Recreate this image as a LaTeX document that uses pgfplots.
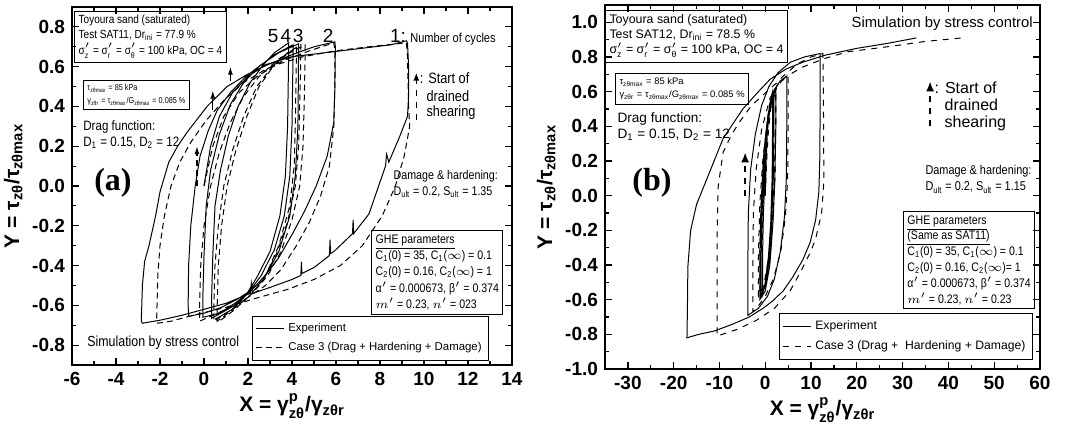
\documentclass[border=0pt]{standalone}
\usepackage{fontspec}
\usepackage{amsmath}
\setmainfont{Liberation Sans}
\newfontfamily\narrow[FakeStretch=0.85]{Liberation Sans}
\newfontfamily\serifb{Liberation Serif}
\usepackage{pgfplots}
\pgfplotsset{compat=1.18}
\usetikzlibrary{arrows.meta}
\newcommand{\s}[1]{$_{\text{#1}}$}
\pgfplotsset{
 myax/.style={scale only axis,
  axis line style={line width=0.8pt},
  every tick/.style={line width=0.6pt, black},
  major tick length=3.5pt, minor tick length=2pt,
  /pgf/number format/assume math mode=true,
  ticklabel style={font=\bfseries\fontsize{9.5}{10}\selectfont},
  label style={font=\bfseries\fontsize{10.5}{12}\selectfont},
  legend cell align=left,
  legend style={draw=black, line width=0.5pt, font=\fontsize{5.7}{6.8}\selectfont, inner sep=1.5pt},
  legend image code/.code={\draw[#1] (0pt,0pt) -- (14pt,0pt);},
  clip=false,
 },
 exp/.style={black, line width=0.5pt},
 sim/.style={black, line width=0.5pt, densely dashed},
}
\begin{document}
\begin{tikzpicture}[x=1pt,y=1pt]
\useasboundingbox (0,0) rectangle (533,215.5);
% ---------------- (a)
\begin{axis}[myax, at={(36pt,33pt)}, anchor=south west, width=220pt, height=179pt,
 xmin=-6, xmax=14, ymin=-0.9, ymax=0.9,
 xtick={-6,-4,...,14}, minor x tick num=1,
 ytick={-0.8,-0.6,-0.4,-0.2,0,0.2,0.4,0.6,0.8}, minor y tick num=1,
 yticklabel style={/pgf/number format/.cd, fixed, fixed zerofill, precision=1},
 xlabel={X = γ$^{\text{p}}_{\text{zθ}}$/γ$_{\text{zθr}}$},
 ylabel={Y = τ$_{\text{zθ}}$/τ$_{\text{zθmax}}$},
 xlabel style={yshift=3pt}, ylabel style={yshift=-2pt},
 legend style={at={(0.948,0.011)}, anchor=south east},
]
\addplot[exp] coordinates {
(0,0)(0.3,0.2)(0.7,0.35)(1.3,0.47)(2.0,0.55)(2.8,0.61)(4.0,0.65)(5.5,0.67)(7,0.69)(8.5,0.71)(9.2,0.73)
(9.25,0.72)(9.3,0.6)(9.3,0.45)(9.25,0.35)
(8.9,0.25)(8.4,0.12)(8.3,0.16)(8.25,0.1)(8.0,0.02)(7.5,-0.14)(6.8,-0.24)(6.78,-0.17)(6.75,-0.24)(5.9,-0.33)(5.75,-0.34)(5.73,-0.27)(5.7,-0.35)(5.0,-0.41)(4.45,-0.44)(4.43,-0.38)(4.4,-0.45)(4.0,-0.47)(3.0,-0.51)(2.2,-0.54)(2.15,-0.49)(2.1,-0.54)(1.0,-0.59)(0,-0.62)(-1.0,-0.65)(-2.0,-0.675)(-2.8,-0.69)
(-2.85,-0.68)(-2.8,-0.5)(-2.7,-0.38)(-2.5,-0.3)(-2.2,-0.15)(-2.0,-0.03)(-1.6,0.12)(-1.2,0.2)(-0.77,0.27)(0.14,0.4)(1.05,0.5)(1.95,0.56)(2.9,0.61)(4.0,0.66)(5.0,0.70)(5.95,0.725)
(5.97,0.7)(5.95,0.5)(5.9,0.32)
(5.6,0.15)(5.1,0)(4.6,-0.12)(4.05,-0.235)(3.4,-0.36)(2.86,-0.44)(2.2,-0.52)(1.5,-0.57)(0.8,-0.61)(0,-0.64)(-0.7,-0.655)
(-0.72,-0.6)(-0.7,-0.4)(-0.6,-0.2)(-0.4,0)(-0.18,0.15)(0.2,0.28)(0.6,0.38)(1.2,0.47)(1.9,0.55)(2.6,0.61)(3.4,0.67)(4.3,0.715)
(4.3,0.68)(4.27,0.3)(4.15,0.05)(3.9,-0.15)(3.4,-0.33)(2.8,-0.45)(2.0,-0.54)(1.4,-0.59)(0.7,-0.64)(-0.05,-0.66)
(-0.05,-0.55)(0,-0.35)(0.1,-0.1)(0.3,0.08)(0.7,0.26)(1.2,0.41)(1.8,0.52)(2.5,0.6)(3.2,0.66)(4.05,0.71)
(4.05,0.68)(4.0,0.3)(3.9,0.05)(3.65,-0.15)(3.2,-0.32)(2.6,-0.45)(2.0,-0.54)(1.4,-0.6)(0.35,-0.665)
(0.35,-0.55)(0.4,-0.35)(0.5,-0.1)(0.75,0.08)(1.1,0.25)(1.55,0.4)(2.1,0.52)(2.7,0.61)(3.2,0.67)(3.85,0.72)
(3.85,0.68)(3.8,0.3)(3.7,0.05)(3.45,-0.15)(3.0,-0.33)(2.4,-0.46)(1.9,-0.55)(1.3,-0.62)(0.5,-0.67)
};
\addlegendentry{Experiment}
\addplot[sim] coordinates {
(0,0)(0.4,0.2)(0.9,0.35)(1.6,0.47)(2.4,0.55)(3.3,0.61)(4.5,0.65)(6,0.68)(7.5,0.7)(9.2,0.72)
(9.25,0.65)(9.3,0.4)(9.35,0.3)
(9.1,0.15)(8.7,0)(8.1,-0.15)(7.2,-0.3)(6.2,-0.4)(5,-0.47)(3.8,-0.52)(2.5,-0.56)(1,-0.61)(-0.5,-0.65)(-1.5,-0.68)(-2.1,-0.69)
(-2.15,-0.66)(-2.1,-0.45)(-2.0,-0.3)(-1.8,-0.15)(-1.5,0.0)(-1.1,0.12)(-0.6,0.22)(0.1,0.33)(0.9,0.43)(1.8,0.52)(2.7,0.58)(3.6,0.63)(4.8,0.68)(5.9,0.72)
(5.95,0.68)(5.95,0.5)(5.9,0.3)
(5.7,0.1)(5.3,-0.05)(4.8,-0.18)(4.2,-0.3)(3.5,-0.42)(2.8,-0.5)(2,-0.56)(1,-0.62)(0.2,-0.66)(-0.2,-0.68)
(-0.2,-0.6)(-0.15,-0.4)(0,-0.2)(0.3,0)(0.7,0.17)(1.2,0.32)(1.8,0.45)(2.5,0.55)(3.4,0.64)(4.6,0.71)
(4.6,0.66)(4.55,0.4)(4.5,0.2)
(4.35,0)(4.0,-0.17)(3.5,-0.33)(2.9,-0.45)(2.2,-0.54)(1.4,-0.61)(0.45,-0.68)
(0.45,-0.6)(0.5,-0.4)(0.65,-0.2)(0.9,0)(1.3,0.18)(1.8,0.35)(2.4,0.5)(3.1,0.6)(3.8,0.67)(4.4,0.71)
(4.4,0.66)(4.35,0.4)(4.3,0.2)
(4.15,0)(3.8,-0.18)(3.3,-0.34)(2.7,-0.47)(2.0,-0.56)(1.2,-0.63)(0.6,-0.68)
(0.6,-0.6)(0.65,-0.4)(0.8,-0.2)(1.05,0)(1.45,0.18)(1.95,0.35)(2.5,0.5)(3.2,0.61)(4.2,0.7)
(4.2,0.65)(4.15,0.3)(4.1,0.1)(3.9,-0.1)(3.4,-0.3)(2.8,-0.45)(2.1,-0.55)(1.3,-0.63)(0.7,-0.68)
};
\addlegendentry{Case 3 (Drag + Hardening + Damage)}
\addplot[black, line width=0.6pt, densely dashed, -{Latex[length=4pt,width=2.5pt]}, forget plot] coordinates {(-0.32,0.0) (-0.32,0.2)};
\addplot[black, line width=0.6pt, -{Latex[length=4pt,width=2.5pt]}, forget plot] coordinates {(0.4,0.38) (0.4,0.48)};
\addplot[black, line width=0.6pt, -{Latex[length=4pt,width=2.5pt]}, forget plot] coordinates {(1.2,0.53) (1.2,0.6)};
% key arrow
\addplot[black, line width=0.7pt, dashed, -{Latex[length=4pt,width=3pt]}, forget plot] coordinates {(9.65,0.33) (9.65,0.57)};
\node[draw, line width=0.5pt, anchor=north west, align=left, inner sep=2pt, font=\narrow\fontsize{5.9}{7.6}\selectfont] at (rel axis cs:0.005,0.99)
 {Toyoura sand (saturated)\\ Test SAT11, Dr\s{ini} = 77.9 \%\\ σ$'_{\text{z}}$ = σ$'_{\text{r}}$ = σ$'_{\text{θ}}$ = 100 kPa, OC = 4};
\node[draw, line width=0.5pt, anchor=north west, align=left, inner sep=2pt, font=\narrow\fontsize{4.3}{6.5}\selectfont] at (rel axis cs:0.025,0.796)
 {τ\s{zθmax} = 85 kPa\\ γ\s{zθr} = τ\s{zθmax}/G\s{zθmax} = 0.085 \%};
\node[anchor=north west, align=left, inner sep=0pt, font=\narrow\fontsize{6.8}{8}\selectfont] at (rel axis cs:0.025,0.685)
 {Drag function:\\ D\s{1} = 0.15, D\s{2} = 12};
\node[font=\serifb\bfseries\fontsize{16}{18}\selectfont] at (rel axis cs:0.093,0.508) {(a)};
\node[font=\fontsize{9.5}{10}\selectfont, anchor=base] at (rel axis cs:0.457,0.9) {5};
\node[font=\fontsize{9.5}{10}\selectfont, anchor=base] at (rel axis cs:0.486,0.9) {4};
\node[font=\fontsize{9.5}{10}\selectfont, anchor=base] at (rel axis cs:0.514,0.9) {3};
\node[font=\fontsize{9.5}{10}\selectfont, anchor=base] at (rel axis cs:0.582,0.9) {2};
\node[font=\fontsize{9.5}{10}\selectfont, anchor=base west, inner sep=0pt] at (rel axis cs:0.722,0.9) {1:};
\node[font=\narrow\fontsize{6.5}{8}\selectfont, anchor=base west, inner sep=0pt] at (rel axis cs:0.768,0.9) {Number of cycles};
\node[font=\narrow\fontsize{7.5}{8}\selectfont, anchor=west, inner sep=0pt] at (rel axis cs:0.79,0.802) {: Start of};
\node[font=\narrow\fontsize{7.5}{8}\selectfont, anchor=west, inner sep=0pt] at (rel axis cs:0.805,0.751) {drained};
\node[font=\narrow\fontsize{7.5}{8}\selectfont, anchor=west, inner sep=0pt] at (rel axis cs:0.805,0.704) {shearing};
\node[anchor=north west, align=left, inner sep=0pt, font=\narrow\fontsize{6.3}{8}\selectfont] at (rel axis cs:0.73,0.545)
 {Damage \& hardening:\\ D\s{ult} = 0.2, S\s{ult} = 1.35};
\node[draw, line width=0.5pt, anchor=north west, align=left, inner sep=2pt, font=\narrow\fontsize{6.2}{8.2}\selectfont] at (rel axis cs:0.68,0.377)
 {\underline{GHE parameters}\\ C\s{1}(0) = 35, C\s{1}($\infty$) = 0.1\\ C\s{2}(0) = 0.16, C\s{2}($\infty$) = 1\\ α$'$ = 0.000673, β$'$ = 0.374\\ $m'$ = 0.23, $n'$ = 023};
\node[anchor=west, inner sep=0pt, font=\narrow\fontsize{7.3}{8}\selectfont] at (rel axis cs:0.034,0.061) {Simulation by stress control};
\end{axis}
% ---------------- (b)
\begin{axis}[myax, at={(302.5pt,31pt)}, anchor=south west, width=217.5pt, height=182pt,
 xmin=-35, xmax=60, ymin=-1.0, ymax=1.1,
 xtick={-30,-20,...,60}, minor x tick num=1,
 ytick={-1.0,-0.8,-0.6,-0.4,-0.2,0,0.2,0.4,0.6,0.8,1.0}, minor y tick num=1,
 yticklabel style={/pgf/number format/.cd, fixed, fixed zerofill, precision=1},
 xlabel={X = γ$^{\text{p}}_{\text{zθ}}$/γ$_{\text{zθr}}$},
 ylabel={Y = τ$_{\text{zθ}}$/τ$_{\text{zθmax}}$},
 xlabel style={yshift=3pt}, ylabel style={yshift=-2pt},
 legend style={at={(0.984,0.025)}, anchor=south east, font=\fontsize{6.1}{7.3}\selectfont},
]
\addplot[exp] coordinates {
(0,0)(0.2,0.2)(0.5,0.4)(0.9,0.52)(1.4,0.58)(1.6,0.6)
(1.6,0.4)(1.5,0.1)(1.2,-0.15)(0.7,-0.35)(0,-0.5)(-0.6,-0.57)
(-0.6,-0.35)(-0.4,-0.1)(0,0.15)(0.5,0.38)(1.1,0.52)(1.9,0.6)
(1.9,0.4)(1.75,0.1)(1.4,-0.15)(0.8,-0.38)(0,-0.52)(-0.9,-0.58)
(-0.9,-0.35)(-0.7,-0.1)(-0.2,0.18)(0.5,0.42)(1.3,0.55)(2.3,0.61)
(2.3,0.4)(2.1,0.1)(1.7,-0.15)(1.0,-0.4)(0,-0.55)(-1.2,-0.6)
(-1.2,-0.35)(-0.9,-0.05)(-0.3,0.25)(0.6,0.47)(1.8,0.6)(3.2,0.66)(4.7,0.69)
(4.7,0.4)(4.6,0.1)(4.2,-0.12)(3.3,-0.32)(2,-0.48)(0.5,-0.58)(-1.5,-0.65)(-3.8,-0.69)
(-3.8,-0.4)(-3.7,-0.1)(-3.2,0.15)(-2.2,0.35)(-0.8,0.52)(0.8,0.63)(2.8,0.71)(5.5,0.77)(8.5,0.8)(12,0.82)
(12,0.55)(11.9,0.2)(11.7,0.02)(11,-0.14)(9.8,-0.27)(8.2,-0.37)(6,-0.47)(3.9,-0.55)(1.5,-0.61)(-0.5,-0.65)(-3.5,-0.7)(-7,-0.74)(-11,-0.78)(-14.5,-0.8)(-17.1,-0.82)
(-17,-0.65)(-16.9,-0.41)(-16.3,-0.2)(-15,-0.05)(-12.7,0.1)(-9.2,0.33)(-4.9,0.5)(-1.5,0.6)(1,0.67)(4.5,0.73)(8.2,0.77)(13,0.81)(20,0.85)(27,0.88)(33,0.91)
};
\addlegendentry{Experiment}
\addplot[sim, dashed] coordinates {
(0,0)(0.3,0.2)(0.7,0.38)(1.2,0.5)(1.8,0.58)(2.2,0.6)
(2.2,0.4)(2,0.1)(1.5,-0.15)(0.8,-0.35)(-0.2,-0.5)(-1.2,-0.57)
(-1.2,-0.35)(-1,-0.1)(-0.5,0.15)(0.2,0.38)(1.1,0.52)(2.3,0.6)
(2.3,0.4)(2.1,0.1)(1.6,-0.15)(0.8,-0.38)(-0.3,-0.52)(-1.5,-0.58)
(-1.5,-0.35)(-1.2,-0.05)(-0.5,0.22)(0.6,0.45)(2,0.6)(3.5,0.66)(5,0.69)
(5,0.4)(4.9,0.1)(4.4,-0.12)(3.4,-0.32)(1.8,-0.48)(0,-0.58)(-1.6,-0.64)(-2.7,-0.67)
(-2.7,-0.4)(-2.6,-0.1)(-2,0.15)(-0.8,0.38)(1,0.56)(3.5,0.68)(7,0.76)(10,0.8)(12.6,0.82)
(12.7,0.55)(12.8,0.08)(12.3,-0.1)(11,-0.25)(9.8,-0.33)(7.5,-0.45)(5.4,-0.55)(2,-0.65)(-2,-0.72)(-6,-0.77)(-10.5,-0.81)
(-10.5,-0.6)(-10.5,-0.2)(-10.3,0.05)(-9.2,0.25)(-7.4,0.35)(-5.5,0.43)(-3,0.52)(-0.5,0.58)(2,0.64)(4.8,0.69)(8,0.74)(12.8,0.79)(18,0.83)(27,0.86)(35,0.89)(43,0.91)
};
\addlegendentry{Case 3 (Drag + \ Hardening + Damage)}
\addplot[black, line width=1.1pt, dashed, -{Latex[length=5pt,width=4pt]}, forget plot] coordinates {(-4.4,0.0) (-4.4,0.25)};
\addplot[black, line width=1.1pt, dashed, -{Latex[length=5pt,width=4pt]}, forget plot] coordinates {(36,0.4) (36,0.66)};
\node[draw, line width=0.5pt, anchor=north west, align=left, inner sep=2pt, font=\fontsize{6.2}{7.6}\selectfont] at (rel axis cs:0.0,0.986)
 {Toyoura sand (saturated)\\ Test SAT12, Dr\s{ini} = 78.5 \%\\ σ$'_{\text{z}}$ = σ$'_{\text{r}}$ = σ$'_{\text{θ}}$ = 100 kPa, OC = 4};
\node[draw, line width=0.5pt, anchor=north west, align=left, inner sep=2pt, font=\fontsize{4.7}{6.8}\selectfont] at (rel axis cs:0.023,0.813)
 {τ\s{zθmax} = 85 kPa\\ γ\s{zθr} = τ\s{zθmax}/G\s{zθmax} = 0.085 \%};
\node[anchor=north west, align=left, inner sep=0pt, font=\fontsize{6.8}{8}\selectfont] at (rel axis cs:0.028,0.705)
 {Drag function:\\ D\s{1} = 0.15, D\s{2} = 12};
\node[font=\serifb\bfseries\fontsize{16}{18}\selectfont] at (rel axis cs:0.108,0.511) {(b)};
\node[anchor=east, inner sep=0pt, font=\fontsize{7.4}{8}\selectfont] at (rel axis cs:0.984,0.948) {Simulation by stress control};
\node[font=\fontsize{8}{9}\selectfont, anchor=west, inner sep=0pt] at (rel axis cs:0.757,0.772) {: Start of};
\node[font=\fontsize{8}{9}\selectfont, anchor=west, inner sep=0pt] at (rel axis cs:0.78,0.725) {drained};
\node[font=\fontsize{8}{9}\selectfont, anchor=west, inner sep=0pt] at (rel axis cs:0.78,0.676) {shearing};
\node[anchor=north west, align=left, inner sep=0pt, font=\narrow\fontsize{6.4}{8}\selectfont] at (rel axis cs:0.736,0.56)
 {Damage \& hardening:\\ D\s{ult} = 0.2, S\s{ult} = 1.15};
\node[draw, line width=0.5pt, anchor=north west, align=left, inner sep=2pt, font=\narrow\fontsize{6.2}{7.9}\selectfont] at (rel axis cs:0.685,0.434)
 {\underline{GHE parameters}\\ \underline{(Same as SAT11)}\\ C\s{1}(0) = 35, C\s{1}($\infty$) = 0.1\\ C\s{2}(0) = 0.16, C\s{2}($\infty$)= 1\\ α$'$ = 0.000673, β$'$ = 0.374\\ $m'$ = 0.23, $n'$ = 0.23};
\end{axis}
\end{tikzpicture}
\end{document}
